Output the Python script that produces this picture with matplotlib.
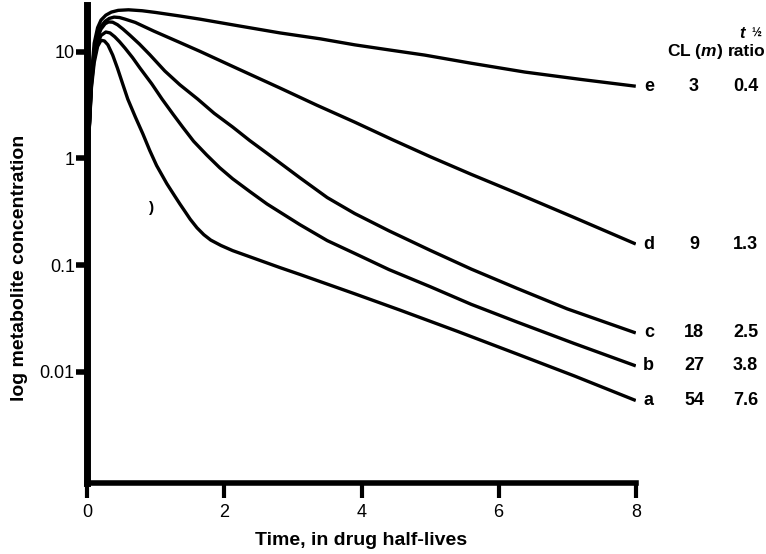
import matplotlib
matplotlib.use("Agg")
import matplotlib.pyplot as plt

plt.rcParams['font.family'] = ['Liberation Sans', 'DejaVu Sans']
plt.rcParams['mathtext.fontset'] = 'custom'
plt.rcParams['mathtext.rm'] = 'Liberation Sans:bold'
plt.rcParams['mathtext.it'] = 'Liberation Sans:bold:italic'
plt.rcParams['mathtext.bf'] = 'Liberation Sans:bold'

# ---- data (time in drug half-lives, metabolite conc.) ----
t_e = [0.02, 0.06, 0.1, 0.15, 0.2, 0.27, 0.35, 0.45, 0.6, 0.8, 1.0, 1.35, 1.64, 2.2,
       2.81, 3.4, 3.9, 4.4, 4.92, 5.6, 6.38, 7.2, 8.0]
c_e = [1.5, 6.0, 12.0, 16.8, 19.8, 22.0, 23.5, 24.4, 24.7, 24.2, 23.3, 21.6, 20.2, 17.5,
       15.0, 13.2, 11.6, 10.4, 9.3, 7.8, 6.45, 5.5, 4.75]

t_d = [0.02, 0.06, 0.1, 0.15, 0.2, 0.26, 0.32, 0.39, 0.47, 0.55, 0.7, 0.97, 1.35, 1.64,
       2.2, 2.81, 3.35, 3.9, 4.45, 5.0, 5.6, 6.26, 7.1, 8.0]
c_d = [1.5, 5.6, 10.5, 14.7, 17.3, 19.3, 20.5, 21.1, 20.9, 20.2, 18.8, 15.6, 12.2, 10.1,
       6.9, 4.57, 3.15, 2.19, 1.5, 1.04, 0.71, 0.474, 0.28, 0.158]

t_c = [0.02, 0.06, 0.1, 0.15, 0.2, 0.26, 0.31, 0.37, 0.44, 0.52, 0.62, 0.76, 0.91, 1.13,
       1.35, 1.61, 1.85, 2.12, 2.37, 2.62, 2.86, 3.1, 3.5, 3.9, 4.4, 5.0, 5.6, 6.26, 7.0, 8.0]
c_c = [1.5, 5.2, 9.6, 13.6, 16.3, 18.3, 19.0, 18.9, 17.9, 16.3, 14.3, 11.8, 9.4, 6.6,
       4.9, 3.6, 2.65, 1.97, 1.47, 1.12, 0.86, 0.66, 0.43, 0.305, 0.21, 0.138, 0.092,
       0.061, 0.039, 0.0232]

t_b = [0.02, 0.06, 0.1, 0.15, 0.2, 0.27, 0.33, 0.4, 0.47, 0.55, 0.66, 0.77, 0.94, 1.09,
       1.25, 1.39, 1.55, 1.74, 1.93, 2.12, 2.37, 2.62, 2.86, 3.1, 3.5, 3.9, 4.4, 5.0, 5.6,
       6.26, 7.1, 8.0]
c_b = [1.5, 4.9, 8.6, 12.1, 14.2, 15.3, 15.0, 13.8, 12.4, 10.8, 8.8, 7.0, 5.0, 3.6,
       2.6, 1.97, 1.45, 1.08, 0.82, 0.645, 0.49, 0.375, 0.3, 0.24, 0.17, 0.129, 0.091,
       0.063, 0.043, 0.0295, 0.0185, 0.0114]

t_a = [0.02, 0.06, 0.1, 0.15, 0.2, 0.25, 0.3, 0.37, 0.44, 0.52, 0.59, 0.7, 0.81, 0.91,
       1.01, 1.16, 1.27, 1.35, 1.43, 1.5, 1.6, 1.7, 1.8, 1.95, 2.12, 2.37, 2.81, 3.1, 3.9,
       4.56, 5.4, 6.26, 7.1, 8.0]
c_a = [1.5, 4.6, 7.9, 11.2, 12.8, 12.6, 11.6, 9.3, 7.0, 4.9, 3.6, 2.45, 1.7, 1.19,
       0.86, 0.58, 0.45, 0.375, 0.315, 0.27, 0.224, 0.193, 0.172, 0.153, 0.137, 0.12,
       0.095, 0.082, 0.054, 0.038, 0.024, 0.0148, 0.0092, 0.0054]

curve_labels = ['a', 'b', 'c', 'd', 'e']
cl_values = ['54', '27', '18', '9', '3']
ratio_values = ['7.6', '3.8', '2.5', '1.3', '0.4']

x_ticks = [0, 2, 4, 6, 8]
y_ticks = [10, 1, 0.1, 0.01]
y_tick_labels = ['10', '1', '0.1', '0.01']

# ---- figure ----
fig = plt.figure(figsize=(7.66, 5.54), dpi=100)
ax = fig.add_axes([0.114, 0.128, 0.716, 0.863])

series = [(t_a, c_a), (t_b, c_b), (t_c, c_c), (t_d, c_d), (t_e, c_e)]
for t, c in series:
    ax.plot(t, c, color='black', lw=2.4, solid_capstyle='butt', solid_joinstyle='round')

ax.set_yscale('log')
ax.set_xlim(0, 8)
ax.set_ylim(0.00091, 27.4)

for s in ['top', 'right']:
    ax.spines[s].set_visible(False)
ax.spines['left'].set_linewidth(5)
ax.spines['bottom'].set_linewidth(4)

ax.set_xticks(x_ticks)
ax.set_xticklabels([str(v) for v in x_ticks])
ax.set_yticks(y_ticks)
ax.set_yticklabels(y_tick_labels)
ax.yaxis.set_minor_locator(matplotlib.ticker.NullLocator())
ax.tick_params(axis='y', direction='out', length=8, width=4, labelsize=13, pad=1)
ax.tick_params(axis='x', direction='out', length=11, width=3, labelsize=13, pad=4)

ax.set_xlabel('Time, in drug half-lives', fontsize=14, fontweight='bold', labelpad=8)
ax.set_ylabel('log metabolite concentration', fontsize=14, fontweight='bold')
ax.yaxis.set_label_coords(-0.108, 0.45)

# right-hand labels
for (t, c), lab, cl, r in zip(series, curve_labels, cl_values, ratio_values):
    yv = c[-1]
    ax.text(8.19, yv, lab, ha='center', va='center', fontsize=13, fontweight='bold', clip_on=False)
    ax.text(8.85, yv, cl, ha='center', va='center', fontsize=13, fontweight='bold', clip_on=False)
    ax.text(9.6, yv, r, ha='center', va='center', fontsize=13, fontweight='bold', clip_on=False)

ax.text(8.86, 10.0, 'CL ($\\mathit{m}$)', ha='center', va='center', fontsize=12.5,
        fontweight='bold', clip_on=False)
ax.text(9.62, 10.0, 'ratio', ha='center', va='center', fontsize=12.5, fontweight='bold',
        clip_on=False)
ax.text(9.62, 14.8, '$\\mathit{t}$', ha='right', va='center', fontsize=12, clip_on=False)
ax.text(9.68, 14.8, '½', ha='left', va='center', fontsize=8.5, fontweight='bold', clip_on=False)

# small stray arc mark in the original
ax.text(0.94, 0.34, ')', ha='center', va='center', fontsize=11, fontweight='bold')

fig.savefig('out.png', dpi=100)
